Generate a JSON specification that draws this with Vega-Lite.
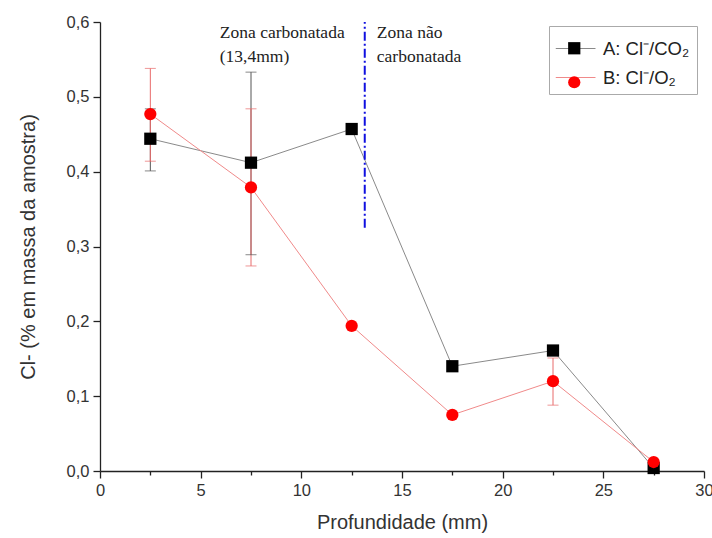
{
  "$schema": "https://vega.github.io/schema/vega-lite/v6.json",
  "width": 604,
  "height": 449,
  "autosize": "none",
  "padding": {"left": 100, "top": 22, "right": 8, "bottom": 67},
  "background": "white",
  "config": {
    "view": {"stroke": null},
    "font": "Liberation Sans"
  },
  "datasets": {
    "pts": [
      {"serie": "A: Cl⁻/CO₂", "x": 2.5, "y": 0.444, "lo": 0.401, "hi": 0.484},
      {"serie": "A: Cl⁻/CO₂", "x": 7.5, "y": 0.412, "lo": 0.289, "hi": 0.533},
      {"serie": "A: Cl⁻/CO₂", "x": 12.5, "y": 0.457},
      {"serie": "A: Cl⁻/CO₂", "x": 17.5, "y": 0.140},
      {"serie": "A: Cl⁻/CO₂", "x": 22.5, "y": 0.161},
      {"serie": "A: Cl⁻/CO₂", "x": 27.5, "y": 0.004},
      {"serie": "B: Cl⁻/O₂", "x": 2.5, "y": 0.477, "lo": 0.414, "hi": 0.538},
      {"serie": "B: Cl⁻/O₂", "x": 7.5, "y": 0.379, "lo": 0.274, "hi": 0.484},
      {"serie": "B: Cl⁻/O₂", "x": 12.5, "y": 0.194},
      {"serie": "B: Cl⁻/O₂", "x": 17.5, "y": 0.075},
      {"serie": "B: Cl⁻/O₂", "x": 22.5, "y": 0.120, "lo": 0.088, "hi": 0.151},
      {"serie": "B: Cl⁻/O₂", "x": 27.5, "y": 0.012}
    ],
    "notes": [
      {"x": 5.95, "y": 0.585, "t": "Zona carbonatada"},
      {"x": 5.95, "y": 0.553, "t": "(13,4mm)"},
      {"x": 13.75, "y": 0.585, "t": "Zona não"},
      {"x": 13.75, "y": 0.553, "t": "carbonatada"}
    ],
    "vline": [{"x": 13.15, "y": 0.325, "y2": 0.6}]
  },
  "layer": [
    {
      "data": {"name": "pts"},
      "mark": {"type": "line", "strokeWidth": 1},
      "encoding": {
        "x": {
          "field": "x", "type": "quantitative",
          "scale": {"domain": [0, 30], "nice": false, "zero": false},
          "axis": {
            "title": "Profundidade (mm)",
            "values": [0, 2.5, 5, 7.5, 10, 12.5, 15, 17.5, 20, 22.5, 25, 27.5, 30],
            "labelExpr": "datum.value % 5 == 0 ? format(datum.value, 'd') : ''",
            "tickSize": {"condition": {"test": "datum.value % 5 == 0", "value": 7}, "value": 4},
            "grid": false,
            "domainColor": "#222", "tickColor": "#222", "tickWidth": 1.3, "domainWidth": 1.3,
            "labelFontSize": 16.5, "labelColor": "#333", "labelPadding": 4, "labelFlush": false,
            "titleFontSize": 20, "titleFontWeight": "normal", "titleColor": "#333", "titlePadding": 14
          }
        },
        "y": {
          "field": "y", "type": "quantitative",
          "scale": {"domain": [0, 0.6], "nice": false},
          "axis": {
            "title": "Cl- (% em massa da amostra)",
            "values": [0, 0.05, 0.1, 0.15, 0.2, 0.25, 0.3, 0.35, 0.4, 0.45, 0.5, 0.55, 0.6],
            "labelExpr": "abs(round(datum.value * 20) % 2) == 0 ? replace(format(datum.value, '.1f'), '.', ',') : ''",
            "tickSize": {"condition": {"test": "abs(round(datum.value * 20) % 2) == 0", "value": 7}, "value": 4},
            "grid": false,
            "domainColor": "#222", "tickColor": "#222", "tickWidth": 1.3, "domainWidth": 1.3,
            "labelFontSize": 16.5, "labelColor": "#333", "labelPadding": 4, "labelFlush": false,
            "titleFontSize": 20, "titleFontWeight": "normal", "titleColor": "#333", "titlePadding": 28
          }
        },
        "color": {
          "field": "serie", "type": "nominal",
          "scale": {"domain": ["A: Cl⁻/CO₂", "B: Cl⁻/O₂"], "range": ["#8a8a8a", "#f08a8a"]},
          "legend": {
            "title": null,
            "orient": "none",
            "legendX": 449,
            "legendY": 4,
            "strokeColor": "#aaaaaa",
            "fillColor": "white",
            "padding": 7,
            "symbolType": "M-1.05,0H1.6",
            "symbolSize": 900,
            "symbolStrokeWidth": 1,
            "labelFontSize": 18.5,
            "labelColor": "#222",
            "labelOffset": 16,
            "rowPadding": 4
          }
        },
        "detail": {"field": "serie"}
      }
    },
    {
      "data": {"name": "pts"},
      "transform": [{"filter": "isValid(datum.lo)"}],
      "mark": {"type": "rule", "strokeWidth": 1},
      "encoding": {
        "x": {"field": "x", "type": "quantitative"},
        "y": {"field": "lo", "type": "quantitative"},
        "y2": {"field": "hi"},
        "color": {"field": "serie", "type": "nominal", "scale": {"domain": ["A: Cl⁻/CO₂", "B: Cl⁻/O₂"], "range": ["#555555", "#e86a6a"]}, "legend": null}
      }
    },
    {
      "data": {"name": "pts"},
      "transform": [{"filter": "isValid(datum.lo)"}],
      "mark": {"type": "tick", "orient": "horizontal", "size": 11, "thickness": 1},
      "encoding": {
        "x": {"field": "x", "type": "quantitative"},
        "y": {"field": "lo", "type": "quantitative"},
        "color": {"field": "serie", "type": "nominal", "scale": {"domain": ["A: Cl⁻/CO₂", "B: Cl⁻/O₂"], "range": ["#555555", "#e86a6a"]}, "legend": null}
      }
    },
    {
      "data": {"name": "pts"},
      "transform": [{"filter": "isValid(datum.hi)"}],
      "mark": {"type": "tick", "orient": "horizontal", "size": 11, "thickness": 1},
      "encoding": {
        "x": {"field": "x", "type": "quantitative"},
        "y": {"field": "hi", "type": "quantitative"},
        "color": {"field": "serie", "type": "nominal", "scale": {"domain": ["A: Cl⁻/CO₂", "B: Cl⁻/O₂"], "range": ["#555555", "#e86a6a"]}, "legend": null}
      }
    },
    {
      "data": {"name": "pts"},
      "mark": {"type": "point", "filled": true, "opacity": 1, "strokeWidth": 0, "size": 150},
      "encoding": {
        "x": {"field": "x", "type": "quantitative"},
        "y": {"field": "y", "type": "quantitative"},
        "shape": {
          "field": "serie", "type": "nominal",
          "scale": {"domain": ["A: Cl⁻/CO₂", "B: Cl⁻/O₂"], "range": ["square", "circle"]},
          "legend": {
            "title": null,
            "orient": "none",
            "legendX": 465,
            "legendY": 17,
            "strokeColor": "transparent",
            "fillColor": "transparent",
            "padding": 0,
            "symbolSize": 150,
            "symbolStrokeWidth": 0,
            "labelFontSize": 18.5,
            "labelColor": "transparent",
            "labelOpacity": 0,
            "labelOffset": 18,
            "rowPadding": 15
          }
        },
        "color": {
          "field": "serie", "type": "nominal",
          "scale": {"domain": ["A: Cl⁻/CO₂", "B: Cl⁻/O₂"], "range": ["#000000", "#ff0000"]},
          "legend": {
            "title": null,
            "orient": "none",
            "legendX": 465,
            "legendY": 17,
            "strokeColor": "transparent",
            "fillColor": "transparent",
            "padding": 0,
            "symbolSize": 150,
            "symbolStrokeWidth": 0,
            "labelFontSize": 18.5,
            "labelColor": "transparent",
            "labelOpacity": 0,
            "labelOffset": 18,
            "rowPadding": 15
          }
        }
      }
    },
    {
      "data": {"name": "vline"},
      "mark": {"type": "rule", "color": "#1010e0", "strokeWidth": 2, "strokeDash": [9, 3, 2, 3]},
      "encoding": {
        "x": {"field": "x", "type": "quantitative"},
        "y": {"field": "y", "type": "quantitative"},
        "y2": {"field": "y2"}
      }
    },
    {
      "data": {"name": "notes"},
      "mark": {"type": "text", "align": "left", "baseline": "middle", "font": "Liberation Serif", "fontSize": 17.5, "color": "#222"},
      "encoding": {
        "x": {"field": "x", "type": "quantitative"},
        "y": {"field": "y", "type": "quantitative"},
        "text": {"field": "t"}
      }
    }
  ],
  "resolve": {"scale": {"color": "independent", "shape": "independent"}}
}
